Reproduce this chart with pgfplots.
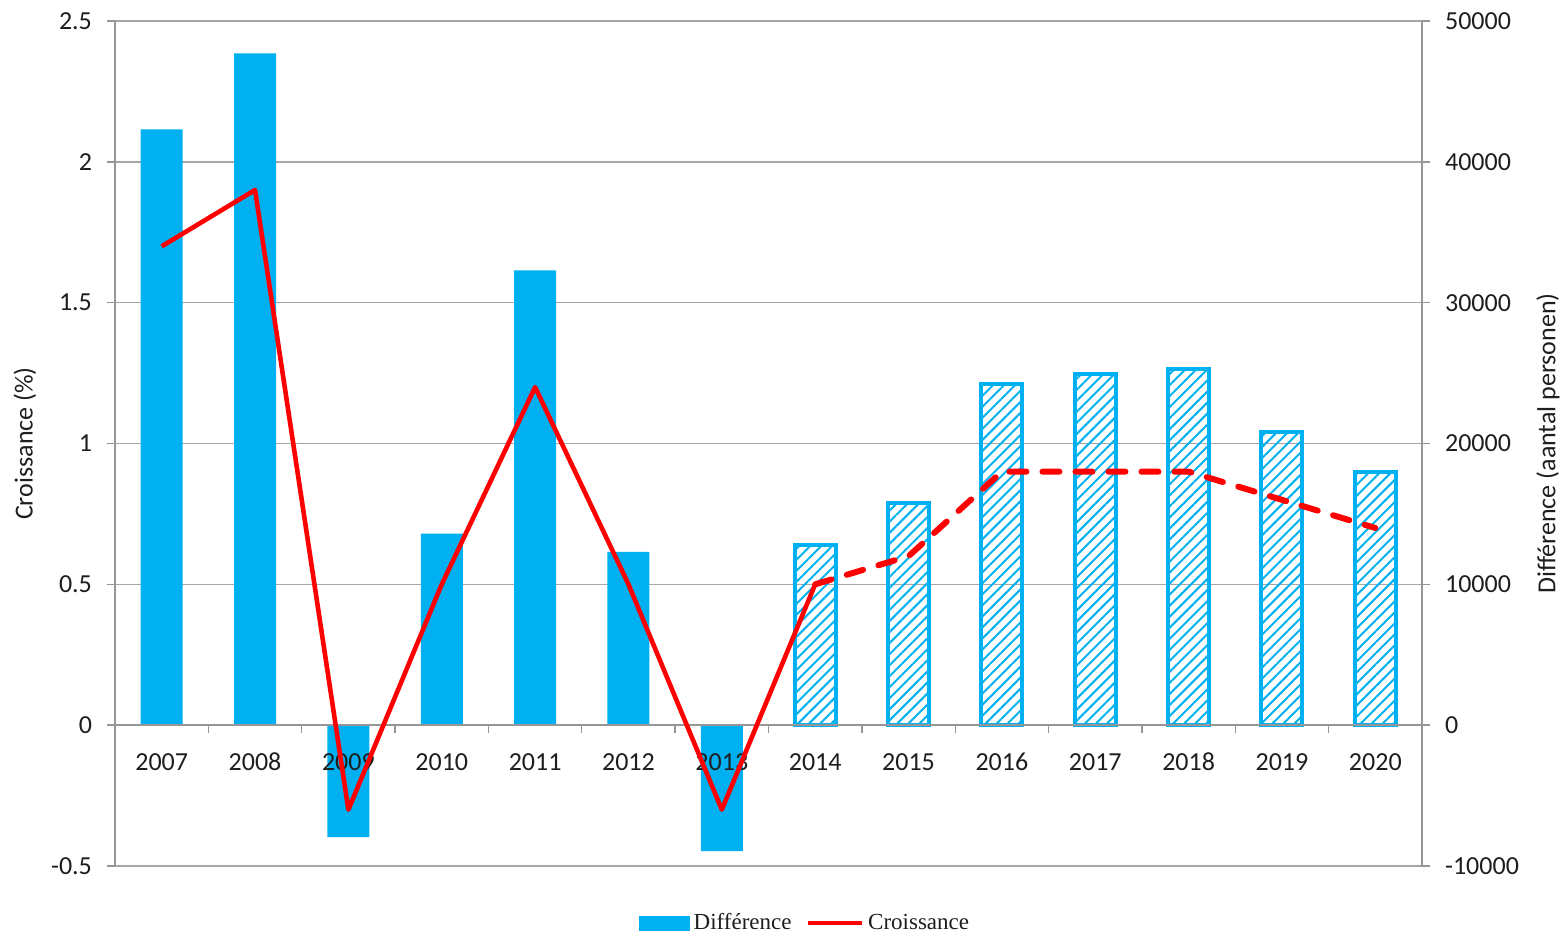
\documentclass[border=0pt]{standalone}
\usepackage{fontspec}
\setmainfont{Carlito}
\newfontfamily\timesf{Liberation Serif}
\usepackage{pgfplots}
\pgfplotsset{compat=1.18}
\usetikzlibrary{patterns.meta}
\definecolor{barblue}{HTML}{00B0F0}
\definecolor{linered}{HTML}{FF0000}
\definecolor{gridgray}{RGB}{166,166,166}
\definecolor{axisgray}{RGB}{150,150,150}
\definecolor{txt}{RGB}{30,30,30}
\newcommand{\tfont}{\fontsize{13}{15}\selectfont}
\begin{document}
\begin{tikzpicture}
% ---------- bars : Différence (right axis) ----------
\begin{axis}[
  at={(0,0)}, anchor=south west,
  scale only axis, width=653.5pt, height=422.5pt,
  xmin=-0.5, xmax=13.5, ymin=-10000, ymax=50000,
  axis y line*=right, axis x line=none,
  y axis line style={-, draw=axisgray, line width=0.7pt},
  ytick={-10000,0,10000,20000,30000,40000,50000},
  scaled y ticks=false,
  yticklabel style={font=\tfont, text=txt, /pgf/number format/1000 sep={}},
  /pgf/number format/assume math mode=true,
  ytick align=outside, major tick length=4pt,
  y tick style={draw=axisgray, line width=0.7pt},
  yticklabel shift=4pt,
  ymajorgrids, grid style={draw=gridgray, line width=0.7pt},
  ylabel={Différence (aantal personen)},
  ylabel style={font=\tfont, text=txt, at={(axis description cs:1.0964,0.5)}, anchor=center},
  clip=false,
]
\addplot[ybar, bar width=21pt, fill=barblue, draw=none] coordinates {
  (0,42300) (1,47700) (2,-7950) (3,13600) (4,32300) (5,12300) (6,-8950)
};
\addplot[ybar, bar width=20.5pt, draw=barblue, line width=2pt,
  pattern={Lines[angle=45, distance=3.9pt, line width=1pt]}, pattern color=barblue] coordinates {
  (7,12800) (8,15770) (9,24200) (10,24900) (11,25300) (12,20800) (13,17950)
};
\end{axis}
% ---------- line : Croissance (left axis) ----------
\begin{axis}[
  at={(0,0)}, anchor=south west,
  scale only axis, width=653.5pt, height=422.5pt,
  xmin=-0.5, xmax=13.5, ymin=-0.5, ymax=2.5,
  axis y line*=left, axis x line*=middle,
  hide obscured x ticks=false, hide obscured y ticks=false,
  x axis line style={-, draw=axisgray, line width=0.7pt},
  y axis line style={-, draw=axisgray, line width=0.7pt},
  xtick={0,1,2,3,4,5,6,7,8,9,10,11,12,13},
  xticklabels={2007,2008,2009,2010,2011,2012,2013,2014,2015,2016,2017,2018,2019,2020},
  major x tick style={draw=none},
  minor xtick={-0.5,0.5,...,13.5},
  minor x tick style={draw=axisgray, line width=0.7pt},
  minor tick length=4pt,
  xtick align=outside,
  xticklabel style={font=\tfont, text=txt, anchor=center, yshift=-14.5pt},
  ytick={-0.5,0,0.5,1,1.5,2,2.5},
  yticklabel style={font=\tfont, text=txt},
  /pgf/number format/assume math mode=true,
  ytick align=outside, major tick length=4pt,
  y tick style={draw=axisgray, line width=0.7pt},
  yticklabel shift=4pt,
  ylabel={Croissance (\%)},
  ylabel style={font=\tfont, text=txt, at={(axis description cs:-0.0689,0.5)}, anchor=center},
  legend columns=2,
  legend style={at={(axis description cs:0.5287,-0.0675)}, anchor=center, draw=none, fill=none,
    font=\timesf\fontsize{11.5}{13}\selectfont, text=txt,
    /tikz/every even column/.append style={column sep=5pt}},
  clip=false,
]
\addlegendimage{legend image code/.code={\fill[barblue] (0pt,-3.5pt) rectangle (25pt,3.5pt);}}
\addlegendentry{Différence}
\addlegendimage{legend image code/.code={\draw[linered, line width=2.3pt] (0pt,0pt) -- (27pt,0pt);}}
\addlegendentry{Croissance}
\addplot[forget plot, linered, line width=2.3pt, line join=round] coordinates {
  (0,1.7) (1,1.9) (2,-0.3) (3,0.5) (4,1.2) (5,0.5) (6,-0.3) (7,0.5)
};
\addplot[forget plot, linered, line width=3pt, line cap=round, line join=round,
  dash pattern=on 8.5pt off 8pt] coordinates {
  (7,0.5) (8,0.6) (9,0.9) (10,0.9) (11,0.9) (12,0.8) (13,0.7)
};
\end{axis}
\pgfresetboundingbox
\path[use as bounding box] (-57.5pt,-35.5pt) rectangle (725pt,433pt);
\end{tikzpicture}
\end{document}
